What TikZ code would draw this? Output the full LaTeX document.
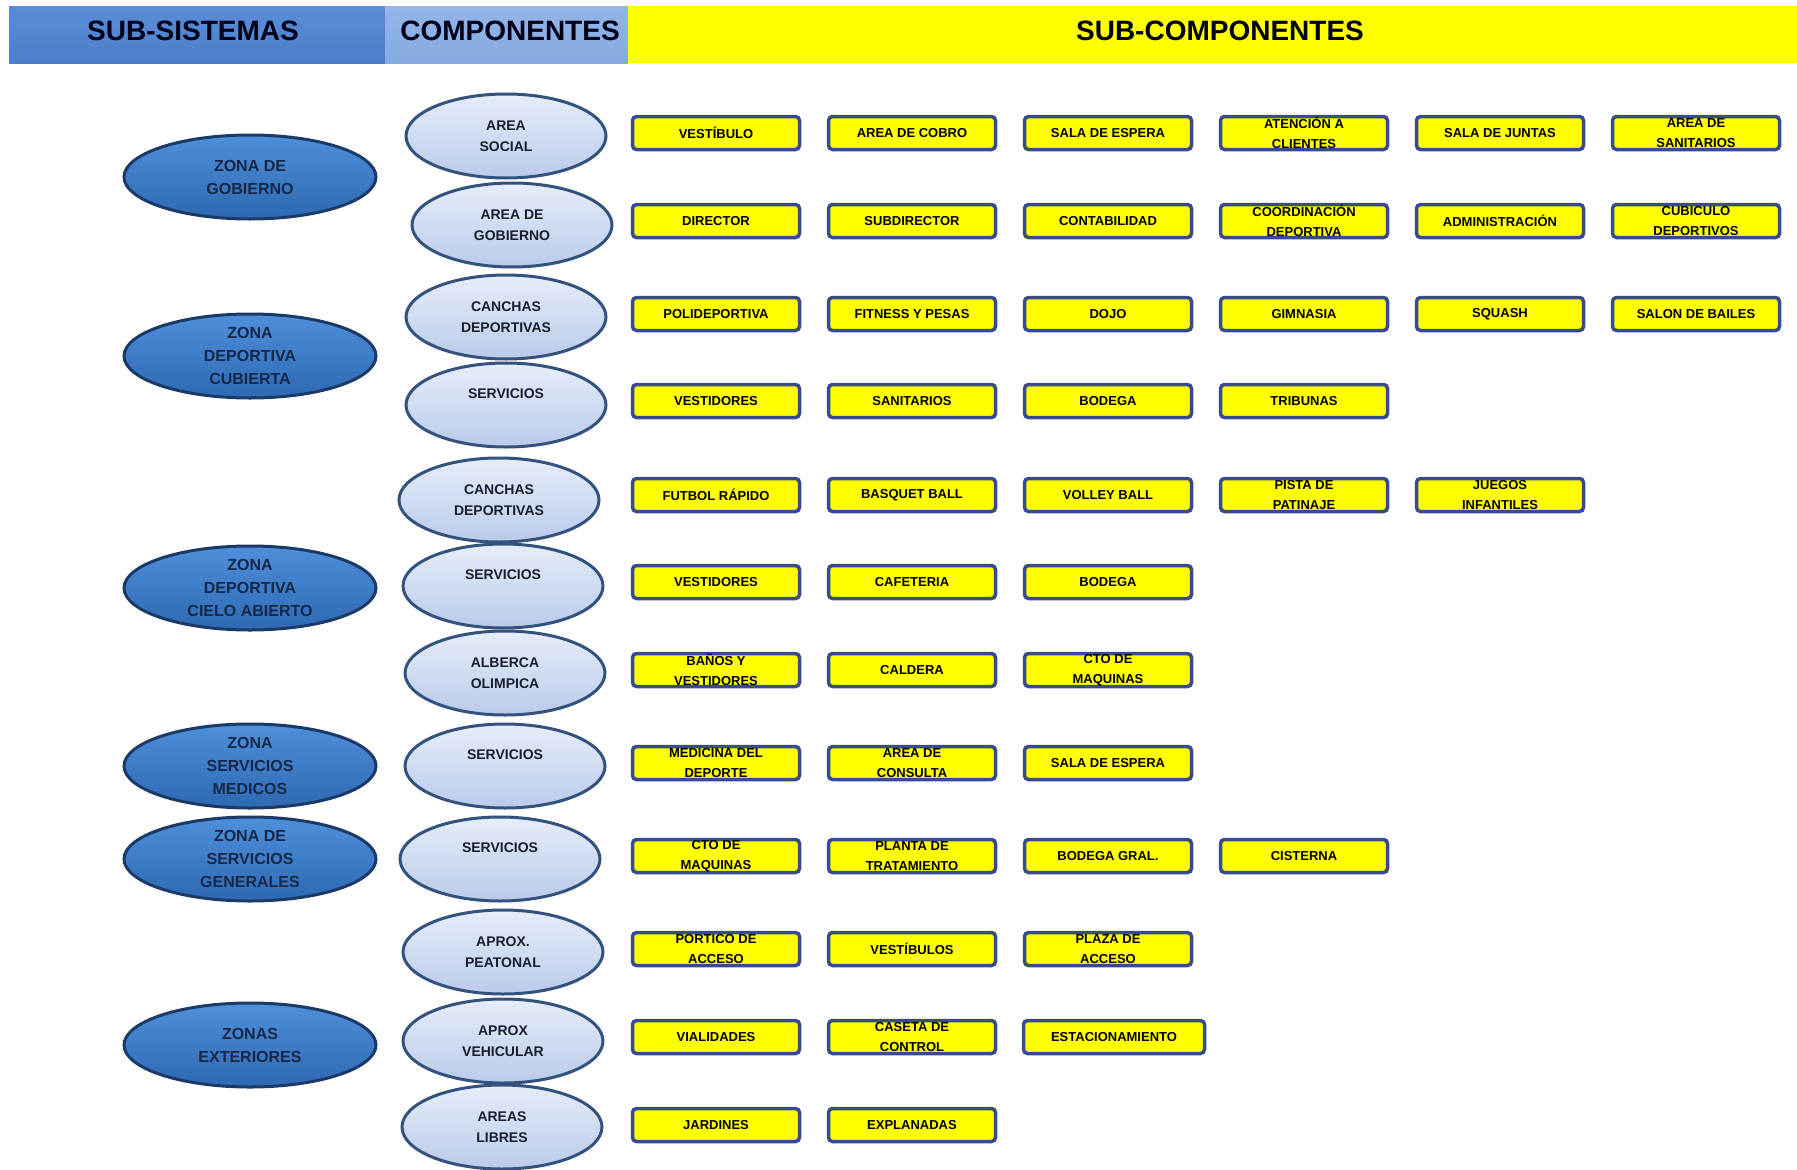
\documentclass[tikz,border=0pt]{standalone}
\usepackage{fontspec}
\setmainfont{Liberation Sans}
\usetikzlibrary{shapes.geometric,shadings}

\definecolor{hdrblue}{HTML}{5A8CD6}
\definecolor{hdrblueB}{HTML}{4C7FCB}
\definecolor{hdrlight}{HTML}{93B5E8}
\definecolor{hdrlightB}{HTML}{86A9DF}
\definecolor{hdryellow}{HTML}{FFFF00}
\definecolor{boxedge}{HTML}{3A4A8E}
\definecolor{zonefillA}{HTML}{4F8FDA}
\definecolor{zonefillB}{HTML}{2E69B3}
\definecolor{zoneedge}{HTML}{1C3A68}
\definecolor{zonetext}{HTML}{16284A}
\definecolor{compA}{HTML}{E6EDF9}
\definecolor{compB}{HTML}{B9CAEA}
\definecolor{compedge}{HTML}{34527E}
\definecolor{comptext}{HTML}{1A1F2E}

\tikzset{
  hdrtext/.style={font=\bfseries\fontsize{28}{30}\selectfont, text=black!90!blue, inner sep=0pt},
  zone/.style={ellipse, draw=zoneedge, line width=3pt, top color=zonefillA, bottom color=zonefillB,
    minimum width=252pt, minimum height=84pt, inner sep=0pt, align=center, text=zonetext,
    font=\bfseries\fontsize{16}{23}\selectfont},
  comp/.style={ellipse, draw=compedge, line width=3pt, top color=compA, bottom color=compB,
    minimum width=200pt, minimum height=84pt, inner sep=0pt, align=center, text=comptext,
    font=\bfseries\fontsize{14}{21}\selectfont},
  raisedlabel/.style={text depth=22pt},
  subbox/.style={draw=boxedge, line width=3.5pt, fill=hdryellow, rounded corners=4pt,
    minimum width=167pt, minimum height=33pt, inner sep=0pt, align=center,
    font=\bfseries\fontsize{13}{20}\selectfont}
}

\begin{document}
\begin{tikzpicture}[x=1pt,y=-1pt]
\useasboundingbox (0,0) rectangle (1797,1170);
\fill[white] (0,0) rectangle (1797,1170);

% header band
\shade[top color=hdrblue, bottom color=hdrblueB] (9,6) rectangle (385,63);
\shade[top color=hdrlight, bottom color=hdrlightB] (385,6) rectangle (628,63);
\fill[hdryellow] (628,6) rectangle (1797,63);
\node[hdrtext] (hsub) at (193,31) {SUB-SISTEMAS};
\node[hdrtext] (hcomp) at (510,31) {COMPONENTES};
\node[hdrtext] (hsubc) at (1220,31) {SUB-COMPONENTES};

% sub-systems
\node[zone] (z1) at (250,177) {ZONA DE\\GOBIERNO};
\node[zone] (z2) at (250,356) {ZONA\\DEPORTIVA\\CUBIERTA};
\node[zone] (z3) at (250,588) {ZONA\\DEPORTIVA\\CIELO ABIERTO};
\node[zone] (z4) at (250,766) {ZONA\\SERVICIOS\\MEDICOS};
\node[zone] (z5) at (250,859) {ZONA DE\\SERVICIOS\\GENERALES};
\node[zone] (z6) at (250,1045) {ZONAS\\EXTERIORES};

% components
\node[comp] (c1) at (506,136) {AREA\\SOCIAL};
\node[comp] (c2) at (512,225) {AREA DE\\GOBIERNO};
\node[comp] (c3) at (506,317) {CANCHAS\\DEPORTIVAS};
\node[comp, raisedlabel] (c4) at (506,405) {SERVICIOS};
\node[comp] (c5) at (499,500) {CANCHAS\\DEPORTIVAS};
\node[comp, raisedlabel] (c6) at (503,586) {SERVICIOS};
\node[comp] (c7) at (505,673) {ALBERCA\\OLIMPICA};
\node[comp, raisedlabel] (c8) at (505,766) {SERVICIOS};
\node[comp, raisedlabel] (c9) at (500,859) {SERVICIOS};
\node[comp] (c10) at (503,952) {APROX.\\PEATONAL};
\node[comp] (c11) at (503,1041) {APROX\\VEHICULAR};
\node[comp] (c12) at (502,1127) {AREAS\\LIBRES};

% sub-components, one row per component
\foreach \t [count=\c] in {VESTÍBULO, AREA DE COBRO, SALA DE ESPERA, {ATENCIÓN A\\CLIENTES}, SALA DE JUNTAS, {AREA DE\\SANITARIOS}}
  \node[subbox] (s1-\c) at ({716+196*(\c-1)},133) {\t};
\foreach \t [count=\c] in {DIRECTOR, SUBDIRECTOR, CONTABILIDAD, {COORDINACIÓN\\DEPORTIVA}, ADMINISTRACIÓN, {CUBICULO\\DEPORTIVOS}}
  \node[subbox] (s2-\c) at ({716+196*(\c-1)},221) {\t};
\foreach \t [count=\c] in {POLIDEPORTIVA, FITNESS Y PESAS, DOJO, GIMNASIA, SQUASH, SALON DE BAILES}
  \node[subbox] (s3-\c) at ({716+196*(\c-1)},314) {\t};
\foreach \t [count=\c] in {VESTIDORES, SANITARIOS, BODEGA, TRIBUNAS}
  \node[subbox] (s4-\c) at ({716+196*(\c-1)},401) {\t};
\foreach \t [count=\c] in {FUTBOL RÁPIDO, BASQUET BALL, VOLLEY BALL, {PISTA DE\\PATINAJE}, {JUEGOS\\INFANTILES}}
  \node[subbox] (s5-\c) at ({716+196*(\c-1)},495) {\t};
\foreach \t [count=\c] in {VESTIDORES, CAFETERIA, BODEGA}
  \node[subbox] (s6-\c) at ({716+196*(\c-1)},582) {\t};
\foreach \t [count=\c] in {{BAÑOS Y\\VESTIDORES}, CALDERA, {CTO DE\\MAQUINAS}}
  \node[subbox] (s7-\c) at ({716+196*(\c-1)},670) {\t};
\foreach \t [count=\c] in {{MEDICINA DEL\\DEPORTE}, {AREA DE\\CONSULTA}, SALA DE ESPERA}
  \node[subbox] (s8-\c) at ({716+196*(\c-1)},763) {\t};
\foreach \t [count=\c] in {{CTO DE\\MAQUINAS}, {PLANTA DE\\TRATAMIENTO}, BODEGA GRAL., CISTERNA}
  \node[subbox] (s9-\c) at ({716+196*(\c-1)},856) {\t};
\foreach \t [count=\c] in {{PORTICO DE\\ACCESO}, VESTÍBULOS, {PLAZA DE\\ACCESO}}
  \node[subbox] (s10-\c) at ({716+196*(\c-1)},949) {\t};
\node[subbox] (s11-1) at (716,1037) {VIALIDADES};
\node[subbox] (s11-2) at (912,1037) {CASETA DE\\CONTROL};
\node[subbox, minimum width=181pt] (s11-3) at (1114,1037) {ESTACIONAMIENTO};
\foreach \t [count=\c] in {JARDINES, EXPLANADAS}
  \node[subbox] (s12-\c) at ({716+196*(\c-1)},1125) {\t};
\end{tikzpicture}
\end{document}
